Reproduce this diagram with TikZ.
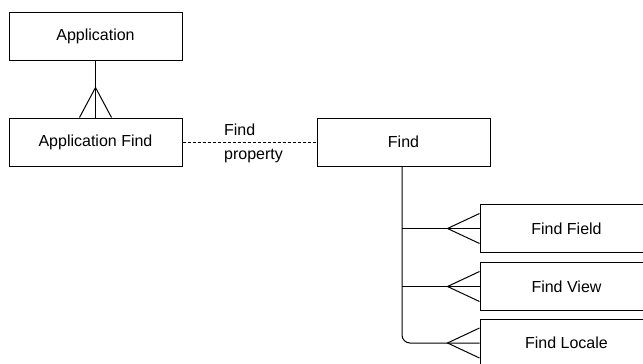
\documentclass[tikz,border=0pt]{standalone}
\usepackage{fontspec}
\setmainfont{Liberation Sans}
\usetikzlibrary{positioning}
\tikzset{
  entity/.style={draw, rectangle, line width=1pt, minimum width=173pt, minimum height=48pt, inner sep=0pt, font=\fontsize{16}{24}\selectfont},
  link/.style={line width=1pt}
}

\begin{document}
\begin{tikzpicture}[x=1pt, y=-1pt]
\useasboundingbox (0,0) rectangle (643,364);

% Application side
\node[entity] (app) at (95.5,36) {Application};
\node[entity] (appfind) at (95.5,142) {Application Find};

% Find and its parts
\node[entity] (find) at (403.5,142) {Find};
\node[entity] (field) at (566.5,228.5) {Find Field};
\node[entity] (view) at (566.5,286.5) {Find View};
\node[entity] (locale) at (566.5,343) {Find Locale};

% Application to Application Find (one to many)
\draw[link] (app.south) -- (appfind.north);
\draw[link] (appfind.north) ++(-16,0) -- ++(16,-30) -- ++(16,30);

% Find property
\draw[link, dash pattern=on 3pt off 2pt] (appfind.east) -- node[align=left, xshift=4pt, yshift=-1.5pt, font=\fontsize{16}{24}\selectfont] {Find\\property} (find.west);

% Find to its parts
\draw[link, rounded corners=8pt] ([xshift=-1.5pt]find.south) |- (locale.west);
\draw[link] ([xshift=-1.5pt]find.south |- field.west) -- (field.west);
\draw[link] ([xshift=-1.5pt]find.south |- view.west) -- (view.west);

% Crow's feet
\draw[link] (field.west) ++(0,-15) -- ++(-32,15) -- ++(32,15);
\draw[link] (view.west) ++(0,-15) -- ++(-32,15) -- ++(32,15);
\draw[link] (locale.west) ++(0,-15) -- ++(-32,15) -- ++(32,15);
\end{tikzpicture}
\end{document}
